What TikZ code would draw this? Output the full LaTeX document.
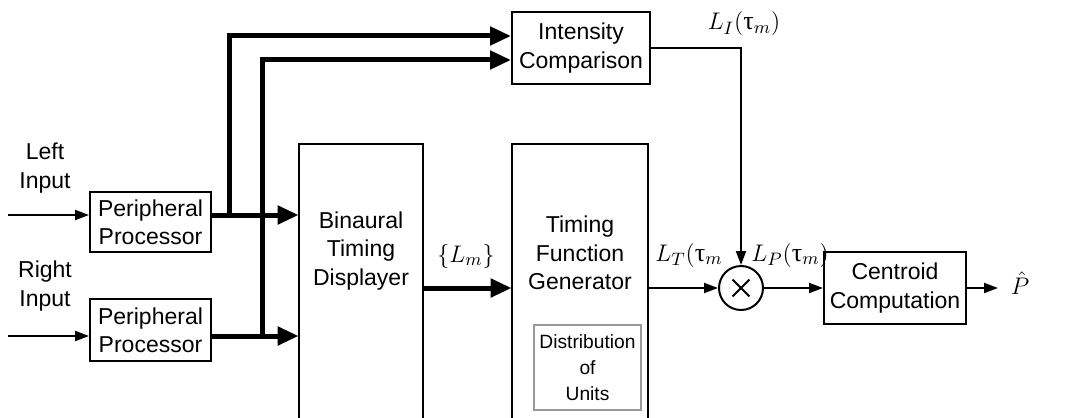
\documentclass[tikz,border=0pt]{standalone}
\usepackage{fontspec}
\setmainfont{Liberation Sans}
\newfontfamily\tms{Liberation Serif}
\usetikzlibrary{arrows.meta}
\newcommand\dgfont{\fontsize{11.5}{14.2}\selectfont}
\newcommand\smfont{\fontsize{9.6}{13}\selectfont}
\newcommand\mathfont{\fontsize{13}{15}\selectfont}
\newcommand\tu{\mbox{\tms τ}}
\begin{document}
\begin{tikzpicture}[x=0.5pt,y=-0.5pt,
  box/.style={draw,line width=1pt,align=center,inner sep=0pt,font=\dgfont},
  txt/.style={align=center,inner sep=0pt,font=\dgfont},
  mlbl/.style={inner sep=0pt,font=\mathfont},
  thk/.style={line width=2.5pt,-{Triangle[length=10.5pt,width=9pt]}},
  thn/.style={line width=1pt,-{Triangle[length=7pt,width=5pt]}},
  openbox/.style={line width=1pt}]
\useasboundingbox (0,0) rectangle (1074,417);
% boxes
\node[box,minimum width=60.5pt,minimum height=30pt] (pp1) at (150.5,222) {Peripheral\\Processor};
\node[box,minimum width=60.5pt,minimum height=31pt] (pp2) at (150.5,330) {Peripheral\\Processor};
\node[box,minimum width=69pt,minimum height=36pt] (ic) at (581,48) {Intensity\\Comparison};
\node[box,minimum width=71pt,minimum height=36pt] (cc) at (895,288) {Centroid\\Computation};
\node[box,draw=black!40,line width=0.6pt,minimum width=53.5pt,minimum height=42.5pt,font=\smfont] (du) at (587.5,367.5) {Distribution\\of\\Units};
\node[draw,circle,line width=1pt,minimum size=22pt,inner sep=0pt] (mult) at (741,288) {};
\draw[line width=1pt] ([xshift=-4.2pt,yshift=4.2pt]mult.center) -- ([xshift=4.2pt,yshift=-4.2pt]mult.center)
  ([xshift=-4.2pt,yshift=-4.2pt]mult.center) -- ([xshift=4.2pt,yshift=4.2pt]mult.center);
% open-bottom big boxes
\node[minimum width=62pt,minimum height=138pt,inner sep=0pt] (btd) at (361,282) {};
\node[minimum width=68pt,minimum height=138pt,inner sep=0pt] (tfg) at (580,282) {};
\draw[openbox] (btd.south west) |- (btd.north east) -- (btd.south east);
\draw[openbox] (tfg.south west) |- (tfg.north east) -- (tfg.south east);
\node[txt] (btdt) at (361,251) {Binaural\\Timing\\Displayer};
\node[txt] (tfgt) at (580,253) {Timing\\Function\\Generator};
% input labels
\node[txt] (lin) at (45,168) {Left\\Input};
\node[txt] (rin) at (45,286) {Right\\Input};
% coordinates
\coordinate (s1) at (8,215);
\coordinate (s2) at (8,336);
\coordinate (j1) at (229,215);
\coordinate (j2) at (262,336);
% input arrows
\draw[thn] (s1) -- (pp1.west |- s1);
\draw[thn] (s2) -- (pp2.west |- s2);
% thick connectors
\draw[thk] (pp1.east |- j1) -- (btd.west |- j1);
\draw[thk] (pp2.east |- j2) -- (btd.west |- j2);
\draw[thk] (j1) |- ([yshift=6pt]ic.west);
\draw[thk] (j2) |- ([yshift=-6pt]ic.west);
\draw[thk] (btd.east |- mult) -- (tfg.west |- mult);
% thin connectors
\draw[thn] (tfg.east |- mult) -- (mult.west);
\draw[thn] (ic.east) -| (mult.north);
\draw[thn] (mult.east) -- (cc.west);
\node[mlbl] (phat) at (1020,283) {$\hat{P}$};
\coordinate (pout) at (998,288);
\draw[thn] (cc.east) -- (pout);
% labels
\node[mlbl] (lm) at (466,256) {$\{L_m\}$};
\node[mlbl] (li) at (744,24) {$L_I(\tu_m)$};
\node[mlbl] (lt) at (689,255) {$L_T(\tu_m$};
\node[mlbl] (lp) at (790,255) {$L_P(\tu_m)$};
\end{tikzpicture}
\end{document}
